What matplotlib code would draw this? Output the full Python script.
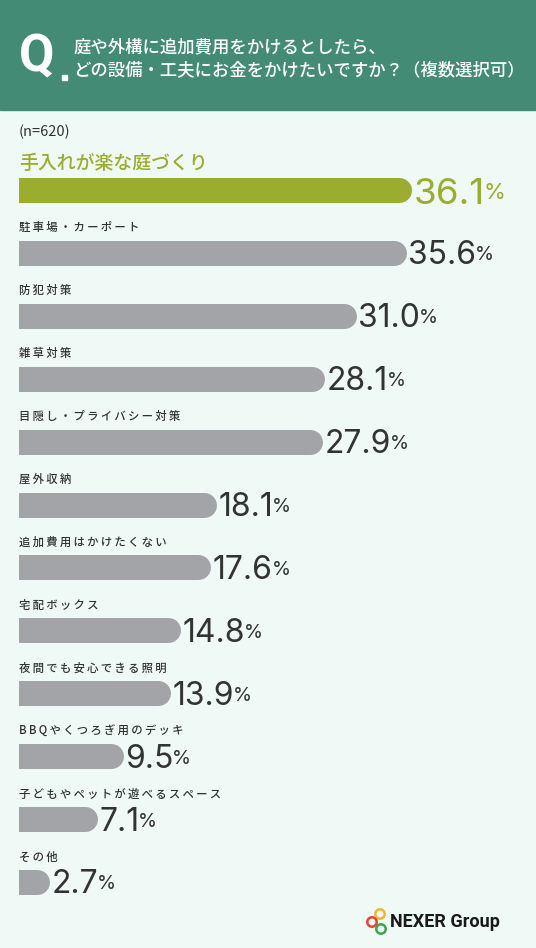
#------------------------------ libraries ------------------------------
import matplotlib
matplotlib.use("Agg")
import matplotlib.pyplot as plt
from matplotlib.patches import Rectangle, Circle
#-----------------------------------------------------------------------

#------------------------------ data -----------------------------------
labels = ["手入れが楽な庭づくり", "駐車場・カーポート", "防犯対策", "雑草対策",
          "目隠し・プライバシー対策", "屋外収納", "追加費用はかけたくない",
          "宅配ボックス", "夜間でも安心できる照明", "BBQやくつろぎ用のデッキ",
          "子どもやペットが遊べるスペース", "その他"]
values = [36.1, 35.6, 31.0, 28.1, 27.9, 18.1, 17.6, 14.8, 13.9, 9.5, 7.1, 2.7]
title_lines = ["庭や外構に追加費用をかけるとしたら、",
               "どの設備・工夫にお金をかけたいですか？（複数選択可）"]
n_note = "(n=620)"
#-----------------------------------------------------------------------

#------------------------------ style ----------------------------------
W, H = 536, 948
bg = "#effaf6"
header_c = "#438b75"
gray = "#a3a4a8"
green = "#9aad2e"
txt = "#333333"
jp = ["Noto Sans CJK JP", "DejaVu Sans"]
num = ["Inter", "DejaVu Sans"]

def fx(x):
    return x / W

def fy(y):
    return 1 - y / H

def spaced(s):
    # thin space between letters, like the letter spacing of the original
    return "\u2009".join(s)
#-----------------------------------------------------------------------

fig = plt.figure(figsize=(W / 100, H / 100), dpi=100, facecolor=bg)

# header band
fig.add_artist(Rectangle((0, fy(110)), 1, 110 / H, transform=fig.transFigure,
                         color=header_c, zorder=0))
fig.text(fx(19), fy(57), "Q", color="white", fontsize=37, fontweight="bold",
         family=["Roboto", "DejaVu Sans"], va="center", ha="left")
fig.add_artist(Rectangle((fx(62), fy(80)), 5 / W, 5 / H, transform=fig.transFigure,
                         color="white"))
fig.text(fx(73), fy(47), title_lines[0], color="white", fontsize=12.5,
         family=jp, fontweight="medium", va="center", ha="left")
fig.text(fx(73), fy(71), title_lines[1], color="white", fontsize=12.5,
         family=jp, fontweight="medium", va="center", ha="left")

fig.text(fx(19), fy(132), n_note, color=txt, fontsize=10.5, family=jp,
         va="center", ha="left")

#------------------------------ bars -----------------------------------
scale = 10.85        # px per %
x0px = 19            # axes left edge
zero_px = 20         # where 0 % sits
c0, step = 190, 62.9 # first bar centre, spacing (px)
n = len(values)
top_px = c0 - step / 2
bot_px = c0 + step * (n - 0.5)

ax = fig.add_axes([fx(x0px), fy(bot_px), 1 - fx(x0px), (bot_px - top_px) / H])
ax.set_axis_off()
xmin = -(zero_px - x0px) / scale
ax.set_xlim(xmin, xmin + (W - x0px) / scale)
ax.set_ylim(n - 0.5, -0.5)

bar_h = 25  # px
r = bar_h / 2 / scale
for i, (lab, v) in enumerate(zip(labels, values)):
    first = i == 0
    c = green if first else gray
    ax.plot([xmin - r, v - r], [i, i], color=c, lw=bar_h * 0.72,
            solid_capstyle="round")
    if first:
        ax.annotate(lab, xy=(0, i), xycoords=("axes fraction", "data"),
                    xytext=(0, 19.5), textcoords="offset points",
                    color=green, fontsize=13.6, family=jp, fontweight="medium",
                    va="center")
    else:
        ax.annotate(spaced(lab), xy=(0, i), xycoords=("axes fraction", "data"),
                    xytext=(0, 18), textcoords="offset points",
                    color=txt, fontsize=8.2, family=jp, fontweight="medium",
                    va="center")
    vc = green if first else txt
    t = ax.annotate(f"{v:.1f}", xy=(v, i), xytext=(1.5, -9.8 if first else -8.3),
                    textcoords="offset points", color=vc,
                    fontsize=26.5 if first else 23,
                    family=num, va="baseline", ha="left")
    ax.annotate("%", xy=(1, 0), xycoords=t, xytext=(-1, 5.8 if first else 5.0),
                textcoords="offset points", color=vc,
                fontsize=16 if first else 14,
                family=num, va="bottom", ha="left")
#-----------------------------------------------------------------------

#------------------------------ logo -----------------------------------
def ring(x, y, col):
    fig.add_artist(Circle((x / 100, (H - y) / 100), 0.047, fill=False,
                          ec=col, lw=1.8, transform=fig.dpi_scale_trans))

ring(380, 914, "#f2b632")
ring(372, 922, "#e0443a")
ring(381, 929, "#3fa34d")
fig.text(fx(390), fy(922), "NEXER Group", color="#1a1a1a", fontsize=13,
         fontweight="bold", family=["Roboto", "DejaVu Sans"],
         va="center", ha="left")

fig.savefig("out.png", dpi=100, facecolor=bg)
